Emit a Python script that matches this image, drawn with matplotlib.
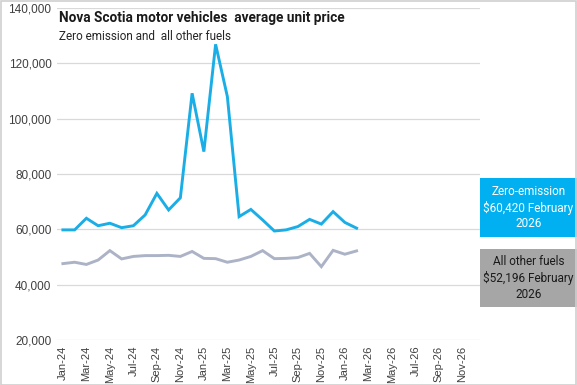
"""
Nova Scotia motor vehicles average unit price: zero emission vs all other fuels.
Saves out.png (577x385).
"""

import matplotlib

matplotlib.use("Agg")
import matplotlib.pyplot as plt
from matplotlib import font_manager
from matplotlib.patches import Rectangle

# Month categories shown on the axis (Jan-24 .. Dec-26)
months = [
    "Jan-24", "Feb-24", "Mar-24", "Apr-24", "May-24", "Jun-24",
    "Jul-24", "Aug-24", "Sep-24", "Oct-24", "Nov-24", "Dec-24",
    "Jan-25", "Feb-25", "Mar-25", "Apr-25", "May-25", "Jun-25",
    "Jul-25", "Aug-25", "Sep-25", "Oct-25", "Nov-25", "Dec-25",
    "Jan-26", "Feb-26", "Mar-26", "Apr-26", "May-26", "Jun-26",
    "Jul-26", "Aug-26", "Sep-26", "Oct-26", "Nov-26", "Dec-26",
]

# Average unit price, Jan-24 .. Feb-26
zero_emission = [
    59800, 59800, 64000, 61300, 62200, 60600, 61300, 65200, 73000, 67000,
    71400, 109200, 88100, 126900, 108000, 64600, 67200, 63400, 59400, 59800,
    61000, 63600, 61900, 66400, 62500, 60420,
]
other_fuels = [
    47600, 48100, 47300, 48900, 52300, 49300, 50200, 50500, 50500, 50600,
    50200, 52000, 49500, 49400, 48100, 48900, 50200, 52300, 49400, 49500,
    49800, 51300, 46500, 52400, 51000, 52196,
]

y_ticks = [20000, 40000, 60000, 80000, 100000, 120000, 140000]

BLUE = "#1BAEE6"
GREY_LINE = "#ADB3C6"

# narrow face for the title if there is one, otherwise Roboto
installed = {f.name for f in font_manager.fontManager.ttflist}
if "Liberation Sans Narrow" in installed:
    TITLE_FONT, TITLE_SIZE = "Liberation Sans Narrow", 11.5
else:
    TITLE_FONT, TITLE_SIZE = "Roboto", 9.8

fig = plt.figure(figsize=(5.77, 3.85), dpi=100)
ax = fig.add_axes([0.0988, 0.117, 0.733, 0.862])

x = list(range(len(zero_emission)))
ax.plot(x, zero_emission, color=BLUE, lw=2.1, solid_joinstyle="miter", zorder=3)
ax.plot(x, other_fuels, color=GREY_LINE, lw=2.1, solid_joinstyle="miter", zorder=3)

ax.set_xlim(-0.5, len(months) - 0.5)
ax.set_ylim(y_ticks[0], y_ticks[-1])
ax.set_yticks(y_ticks)
ax.set_yticklabels([f"{v:,}" for v in y_ticks], fontsize=8.5,
                   family="Liberation Sans", color="#404040")
ax.set_xticks(range(0, len(months), 2))
ax.set_xticklabels(months[::2], rotation=90, fontsize=8,
                   family="Liberation Sans", color="#404040")
ax.tick_params(length=0, pad=4)
ax.grid(axis="y", color="#D9D9D9", lw=0.9)
ax.set_axisbelow(True)
for s in ax.spines.values():
    s.set_visible(False)

fig.text(0.103, 0.952, "Nova Scotia motor vehicles  average unit price",
         fontsize=TITLE_SIZE, fontweight="bold", family=TITLE_FONT, va="center",
         color="#1a1a1a")
fig.text(0.103, 0.905, "Zero emission and  all other fuels",
         fontsize=8.5, family="Roboto", va="center", color="#262626")

# Callout boxes on the right
fig.patches.append(Rectangle((0.832, 0.384), 0.168, 0.154, transform=fig.transFigure,
                             facecolor="#00B0F0", edgecolor="none"))
fig.text(0.916, 0.461, "Zero-emission\n\\$60,420 February\n2026", ha="center",
         va="center", fontsize=8.5, color="white", family="Roboto",
         linespacing=1.25)
fig.patches.append(Rectangle((0.832, 0.203), 0.168, 0.150, transform=fig.transFigure,
                             facecolor="#A6A6A6", edgecolor="none"))
fig.text(0.916, 0.278, "All other fuels\n\\$52,196 February\n2026", ha="center",
         va="center", fontsize=8.5, color="#1a1a1a", family="Roboto",
         linespacing=1.25)

# outer border of the chart
fig.patches.append(Rectangle((0.001, 0.001), 0.997, 0.997, transform=fig.transFigure,
                             facecolor="none", edgecolor="#D0D0D0", lw=1.2))

fig.savefig("out.png", dpi=100)
